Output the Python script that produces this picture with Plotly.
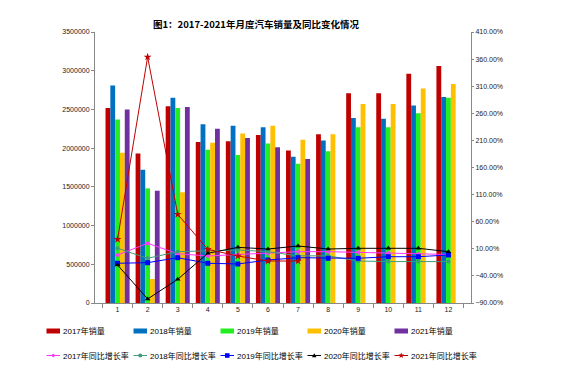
import math
import plotly.graph_objects as go

months = [str(i) for i in range(1, 13)]

sales_2017 = [2520000, 1930000, 2540000, 2080000, 2090000, 2170000, 1970000, 2180000, 2710000, 2710000, 2960000, 3060000]
sales_2018 = [2810000, 1720000, 2650000, 2310000, 2290000, 2270000, 1890000, 2100000, 2390000, 2380000, 2550000, 2660000]
sales_2019 = [2370000, 1480000, 2520000, 1980000, 1910000, 2060000, 1800000, 1960000, 2270000, 2270000, 2450000, 2650000]
sales_2020 = [1940000, 310000, 1430000, 2070000, 2190000, 2290000, 2110000, 2180000, 2570000, 2570000, 2770000, 2830000]
sales_2021 = [2500000, 1450000, 2530000, 2250000, 2130000, 2010000, 1860000, None, None, None, None, None]

yoy_2017 = [-1.4, 20.1, 1.0, -3.3, -0.5, 1.7, 4.7, 4.7, 3.5, 1.7, -0.2, -0.5]
yoy_2018 = [10.9, -7.5, 4.7, 6.0, 7.8, 4.7, -3.0, -3.0, -12.5, -13.6, -13.6, -13.6]
yoy_2019 = [-16.7, -15.6, -6.4, -16.7, -18.0, -10.7, -6.4, -7.5, -7.5, -4.6, -4.6, -1.4]
yoy_2020 = [-19.9, -82.6, -46.3, 1.7, 12.7, 9.6, 15.2, 9.6, 10.9, 10.9, 10.9, 4.7]
yoy_2021 = [27.5, 364.0, 73.6, 9.0, -3.3, -12.5, -12.5, None, None, None, None, None]

bar_names = ["2017年销量", "2018年销量", "2019年销量", "2020年销量", "2021年销量"]
bar_colors = ["#C00000", "#0070C0", "#22EE22", "#FFC000", "#7030A0"]
bar_data = [sales_2017, sales_2018, sales_2019, sales_2020, sales_2021]

line_names = ["2017年同比增长率", "2018年同比增长率", "2019年同比增长率", "2020年同比增长率", "2021年同比增长率"]
line_colors = ["#FF33FF", "#3C9C7C", "#0000FF", "#000000", "#C00000"]
line_symbols = ["diamond", "circle", "square", "triangle-up", "star"]
line_sizes = [4, 4, 5, 5, 6]
line_data = [yoy_2017, yoy_2018, yoy_2019, yoy_2020, yoy_2021]

FONT = "Liberation Sans, Noto Sans CJK SC, sans-serif"
OFF = 8  # page body margin
W, H = 585 - OFF, 381 - OFF
ML, MT = 95 - OFF, 32 - OFF
MR = W - (471 - OFF)
MB = H - (303 - OFF)
PW, PH = W - ML - MR, H - MT - MB


def px(x):
    # screen px -> paper x
    return (x - OFF - ML) / PW


def py(y):
    # screen px -> paper y
    return (H - MB - (y - OFF)) / PH


fig = go.Figure()

for name, color, vals in zip(bar_names, bar_colors, bar_data):
    fig.add_trace(go.Bar(x=months, y=vals, name=name, marker=dict(color=color, line=dict(width=0)),
                         showlegend=False, yaxis="y"))

for name, color, sym, sz, vals in zip(line_names, line_colors, line_symbols, line_sizes, line_data):
    fig.add_trace(go.Scatter(x=months, y=vals, name=name, mode="lines+markers",
                             line=dict(color=color, width=1),
                             marker=dict(symbol=sym, size=sz, color=color),
                             yaxis="y2", showlegend=False))

# manual legend (two rows, Excel-like)
shapes = []
annotations = []
item_x = [46.5, 133.5, 220.5, 307.5, 394.5]
row1_y, row2_y = 331, 355.5


def marker_path(sym, cx, cy, r):
    if sym == "diamond":
        pts = [(cx, cy - r), (cx + r, cy), (cx, cy + r), (cx - r, cy)]
    elif sym == "square":
        pts = [(cx - r, cy - r), (cx + r, cy - r), (cx + r, cy + r), (cx - r, cy + r)]
    elif sym == "triangle-up":
        pts = [(cx, cy - r), (cx + r, cy + r * 0.8), (cx - r, cy + r * 0.8)]
    else:  # star
        pts = []
        for k in range(10):
            ang = -math.pi / 2 + k * math.pi / 5
            rr = r if k % 2 == 0 else r * 0.45
            pts.append((cx + rr * math.cos(ang), cy + rr * math.sin(ang)))
    return "M " + " L ".join(f"{px(a):.5f},{py(b):.5f}" for a, b in pts) + " Z"


for i, (name, color) in enumerate(zip(bar_names, bar_colors)):
    x0 = item_x[i]
    shapes.append(dict(type="rect", xref="paper", yref="paper",
                       x0=px(x0), x1=px(x0 + 13.5), y0=py(row1_y - 2.5), y1=py(row1_y + 2.5),
                       fillcolor=color, line=dict(width=0)))
    annotations.append(dict(text=name, xref="paper", yref="paper", x=px(x0 + 14.5), y=py(row1_y),
                            xanchor="left", yanchor="middle", showarrow=False,
                            font=dict(size=8, color="#000000")))

for i, (name, color, sym) in enumerate(zip(line_names, line_colors, line_symbols)):
    x0 = item_x[i]
    shapes.append(dict(type="line", xref="paper", yref="paper",
                       x0=px(x0), x1=px(x0 + 13.5), y0=py(row2_y), y1=py(row2_y),
                       line=dict(color=color, width=1)))
    cx = x0 + 6.75
    r = 2.0 if sym in ("diamond", "circle") else 2.3
    if sym == "star":
        r = 3.0
    if sym == "circle":
        shapes.append(dict(type="circle", xref="paper", yref="paper",
                           x0=px(cx - r), x1=px(cx + r), y0=py(row2_y + r), y1=py(row2_y - r),
                           fillcolor=color, line=dict(width=0)))
    else:
        shapes.append(dict(type="path", xref="paper", yref="paper",
                           path=marker_path(sym, cx, row2_y, r),
                           fillcolor=color, line=dict(width=0)))
    annotations.append(dict(text=name, xref="paper", yref="paper", x=px(x0 + 14.5), y=py(row2_y),
                            xanchor="left", yanchor="middle", showarrow=False,
                            font=dict(size=8, color="#000000")))

fig.update_layout(
    width=W, height=H,
    margin=dict(l=ML, r=MR, t=MT, b=MB),
    paper_bgcolor="white", plot_bgcolor="white",
    barmode="group", bargap=0.2, bargroupgap=0,
    showlegend=False,
    font=dict(family=FONT, size=7, color="#222222"),
    title=dict(text="<b>图1：2017-2021年月度汽车销量及同比变化情况</b>",
               x=(256 - OFF) / W, xanchor="center", xref="container",
               y=1 - (25 - OFF) / H, yanchor="middle", yref="container",
               font=dict(family="Noto Sans CJK SC, sans-serif", size=9.5, color="#000000")),
    xaxis=dict(type="category", showline=True, linecolor="#888888", linewidth=1,
               ticks="outside", tickson="boundaries", ticklen=4, tickcolor="#888888",
               showgrid=False, tickfont=dict(size=7)),
    yaxis=dict(range=[0, 3500000], dtick=500000, showline=True, linecolor="#888888", linewidth=1,
               ticks="outside", ticklen=3, tickcolor="#888888", showgrid=False, zeroline=False,
               tickformat="d", tickfont=dict(size=7)),
    yaxis2=dict(range=[-90, 410], dtick=50, tick0=10, overlaying="y", side="right",
                showline=True, linecolor="#888888", linewidth=1,
                ticks="outside", ticklen=2, tickcolor="#888888", showgrid=False, zeroline=False,
                tickformat=".2f", ticksuffix="%", tickfont=dict(size=7)),
    shapes=shapes,
    annotations=annotations,
)

fig.write_html("out.html")
